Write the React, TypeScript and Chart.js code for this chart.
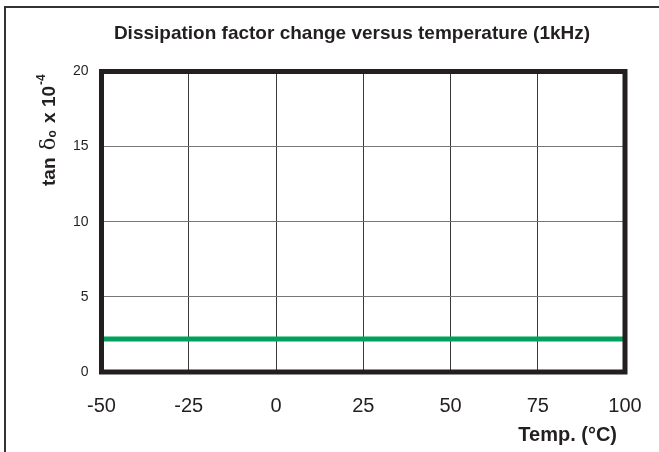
import React, { useEffect, useRef } from 'react';
import { Chart, registerables } from 'chart.js';

Chart.register(...registerables);

const temperatures = [-50, -25, 0, 25, 50, 75, 100];
const tanDelta = [2.2, 2.2, 2.2, 2.2, 2.2, 2.2, 2.2];
const xTickValues = [-50, -25, 0, 25, 50, 75, 100];
const yTickValues = [0, 5, 10, 15, 20];
const chartTitle = 'Dissipation factor change versus temperature (1kHz)';
const xAxisTitle = 'Temp. (\u00B0C)';
const yLabelParts = ['tan ', '\u03B4', 'o', ' x 10', '-4'];

const FONT = "'Liberation Sans', Arial, Helvetica, sans-serif";
const INK = '#231f20';

export default function App() {
  const ref = useRef<HTMLCanvasElement>(null);

  useEffect(() => {
    const canvas = ref.current;
    if (!canvas) return;

    const decor = {
      id: 'decor',
      beforeDraw(chart: any) {
        const c = chart.ctx;
        c.save();
        c.fillStyle = '#ffffff';
        c.fillRect(0, 0, chart.width, chart.height);
        c.strokeStyle = '#333333';
        c.lineWidth = 2;
        c.beginPath();
        c.moveTo(5, chart.height);
        c.lineTo(5, 7);
        c.lineTo(chart.width, 7);
        c.stroke();
        c.restore();
      },
      afterDraw(chart: any) {
        const c = chart.ctx;
        const a = chart.chartArea;
        c.save();
        // plot frame
        c.strokeStyle = INK;
        c.lineWidth = 5;
        c.strokeRect(a.left, a.top, a.right - a.left, a.bottom - a.top);

        // title
        c.fillStyle = INK;
        c.font = `bold 19px ${FONT}`;
        c.textAlign = 'center';
        c.textBaseline = 'alphabetic';
        c.fillText(chartTitle, 352, 39);

        // x axis title
        c.font = `bold 20px ${FONT}`;
        c.textAlign = 'right';
        c.fillText(xAxisTitle, 617, 441);

        // y axis title (rotated)
        c.translate(55, 186);
        c.rotate(-Math.PI / 2);
        c.textAlign = 'left';
        let x = 0;
        c.font = `bold 19px ${FONT}`;
        c.fillText(yLabelParts[0], x, 0);
        x += c.measureText(yLabelParts[0]).width + 2;
        c.font = `21px 'DejaVu Serif', serif`;
        c.fillText(yLabelParts[1], x, 0);
        x += c.measureText(yLabelParts[1]).width;
        c.font = `bold 12px ${FONT}`;
        c.fillText(yLabelParts[2], x, 1);
        x += c.measureText(yLabelParts[2]).width + 2;
        c.font = `bold 19px ${FONT}`;
        c.fillText(yLabelParts[3], x, 0);
        x += c.measureText(yLabelParts[3]).width + 1;
        c.font = `bold 12px ${FONT}`;
        c.fillText(yLabelParts[4], x, -10);
        c.restore();
      },
    };

    const chart = new Chart(canvas, {
      type: 'line',
      data: {
        datasets: [
          {
            data: temperatures.map((t, i) => ({ x: t, y: tanDelta[i] })),
            borderColor: '#00a15c',
            borderWidth: 5,
            pointRadius: 0,
            tension: 0,
            borderCapStyle: 'butt',
          },
        ],
      },
      options: {
        animation: false,
        responsive: false,
        layout: { padding: { top: 71.5, right: 34, bottom: 0, left: 0 } },
        plugins: {
          legend: { display: false },
          tooltip: { enabled: false },
          title: { display: false },
        },
        scales: {
          x: {
            type: 'linear',
            min: -50,
            max: 100,
            afterBuildTicks: (s: any) => {
              s.ticks = xTickValues.map((v) => ({ value: v }));
            },
            afterFit: (s: any) => {
              s.height = 80;
              s.paddingLeft = 0;
              s.paddingRight = 0;
            },
            grid: { color: '#3a3a3a', lineWidth: 1, drawTicks: false },
            border: { display: false },
            ticks: {
              font: { family: FONT, size: 20 },
              color: INK,
              padding: 22,
              maxRotation: 0,
              autoSkip: false,
            },
          },
          y: {
            type: 'linear',
            min: 0,
            max: 20,
            afterBuildTicks: (s: any) => {
              s.ticks = yTickValues.map((v) => ({ value: v }));
            },
            afterFit: (s: any) => {
              s.width = 101.5;
              s.paddingTop = 0;
              s.paddingBottom = 0;
            },
            grid: { color: '#777777', lineWidth: 1, drawTicks: false },
            border: { display: false },
            ticks: {
              font: { family: FONT, size: 14 },
              color: INK,
              padding: 13,
              autoSkip: false,
            },
          },
        },
      },
      plugins: [decor],
    } as any);

    return () => chart.destroy();
  }, []);

  return (
    <div style={{ position: 'absolute', left: 0, top: 0, width: 659, height: 452, background: '#fff' }}>
      <canvas ref={ref} width={659} height={452} style={{ display: 'block', width: 659, height: 452 }} />
    </div>
  );
}
